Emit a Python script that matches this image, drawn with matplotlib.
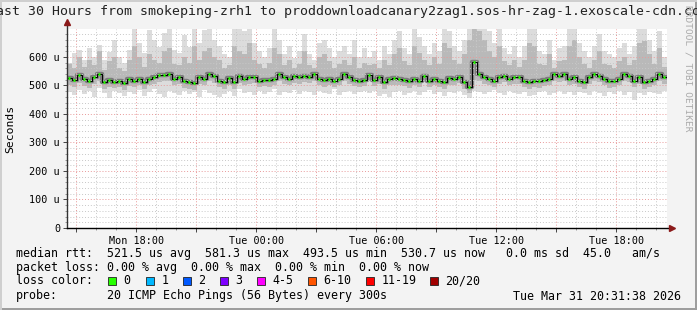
import matplotlib
matplotlib.use("Agg")
import matplotlib.pyplot as plt
import matplotlib.dates as mdates
from matplotlib.ticker import MultipleLocator, FuncFormatter
from matplotlib.patches import Rectangle
from datetime import datetime, timedelta

# ---- data (15 minute steps, values in microseconds) ----
start_time = datetime(2026, 3, 30, 14, 31, 38)
step_minutes = 15

median_rtt = [525, 519, 535, 524, 517, 529, 540, 512, 518, 512, 517, 508, 521, 517, 523, 511, 523, 529, 535, 538,
              540, 523, 529, 514, 511, 507, 529, 523, 540, 534,
              517, 511, 526, 512, 534, 523, 529, 531, 517, 520, 520, 523, 540, 529, 523, 534, 529, 534, 531, 539,
              523, 520, 523, 517, 523, 540, 529, 520, 517, 520,
              537, 520, 529, 511, 523, 526, 523, 520, 514, 523, 517, 534, 517, 523, 517, 511, 526, 523, 531, 511,
              494, 581, 540, 529, 523, 517, 529, 534, 523, 529,
              529, 517, 511, 517, 514, 520, 523, 540, 534, 540, 523, 529, 517, 511, 529, 540, 534, 523, 514, 517,
              523, 540, 534, 517, 529, 511, 517, 523, 540, 531]

ping_min = [478, 465, 485, 470, 480, 460, 490, 472, 455, 482, 475, 462, 478, 470, 484, 462, 476, 488, 470, 458,
            480, 474, 466, 482, 470, 478, 460, 484, 472, 466,
            458, 470, 480, 464, 486, 472, 478, 468, 482, 470, 476, 488, 466, 478, 472, 484, 470, 480, 476, 468,
            482, 474, 470, 486, 468, 478, 482, 470, 476, 480,
            474, 480, 462, 470, 458, 476, 482, 468, 474, 480, 466, 478, 484, 470, 476, 462, 478, 472, 480, 468,
            456, 482, 476, 470, 478, 484, 472, 466, 480, 474,
            470, 478, 462, 468, 476, 480, 466, 474, 482, 470, 476, 468, 478, 472, 466, 480, 474, 462, 478, 470,
            482, 468, 476, 450, 472, 466, 478, 474, 470, 480]

ping_low = [500, 495, 510, 498, 492, 505, 515, 488, 494, 490, 495, 484, 498, 494, 500, 488, 500, 505, 512, 514,
            516, 500, 505, 492, 488, 484, 505, 500, 516, 510,
            494, 488, 502, 488, 510, 500, 505, 508, 494, 497, 496, 500, 516, 506, 500, 510, 505, 512, 508, 516,
            500, 496, 500, 494, 500, 516, 506, 497, 494, 497,
            514, 497, 505, 488, 500, 502, 500, 497, 490, 500, 494, 512, 494, 500, 494, 488, 502, 500, 508, 488,
            472, 520, 515, 505, 500, 494, 505, 512, 500, 505,
            505, 494, 488, 494, 490, 497, 500, 516, 512, 516, 500, 505, 494, 488, 505, 516, 512, 500, 490, 494,
            500, 516, 512, 494, 505, 488, 494, 500, 516, 505]

ping_high = [575, 560, 600, 565, 590, 570, 620, 555, 585, 600, 560, 550, 590, 640, 600, 565, 610, 590, 580, 620,
             630, 575, 570, 600, 580, 640, 590, 620, 630, 600,
             590, 560, 570, 640, 620, 610, 650, 590, 575, 560, 580, 630, 610, 570, 590, 560, 575, 620, 570, 560,
             600, 610, 585, 560, 575, 590, 570, 600, 560, 580,
             570, 575, 560, 590, 570, 610, 630, 585, 570, 640, 615, 590, 570, 600, 575, 650, 630, 590, 575, 610,
             660, 700, 690, 660, 620, 600, 640, 585, 570, 590,
             565, 590, 650, 640, 575, 570, 610, 560, 585, 590, 640, 660, 600, 575, 560, 590, 620, 575, 570, 560,
             585, 600, 570, 590, 650, 655, 610, 575, 630, 565]

ping_max = [578, 613, 624, 590, 630, 601, 642, 590, 619, 660, 601, 578, 624, 712, 648, 613, 695, 660, 636, 683,
            700, 624, 613, 677, 636, 706, 648, 695, 706, 660,
            640, 610, 600, 710, 705, 690, 715, 650, 620, 600, 630, 700, 660, 610, 640, 595, 620, 680, 610, 590,
            650, 660, 630, 600, 620, 640, 610, 660, 600, 630,
            600, 620, 590, 640, 610, 660, 690, 630, 610, 700, 670, 640, 610, 650, 620, 710, 690, 640, 620, 660,
            715, 715, 715, 715, 690, 650, 700, 630, 610, 640,
            600, 640, 715, 700, 620, 610, 660, 590, 630, 640, 710, 715, 650, 620, 600, 640, 680, 620, 610, 600,
            630, 650, 610, 640, 715, 715, 660, 620, 690, 600]

y_ticks = [0, 100, 200, 300, 400, 500, 600]

legend_lines = [
    "median rtt:  521.5 us avg  581.3 us max  493.5 us min  530.7 us now   0.0 ms sd  45.0   am/s",
    "packet loss: 0.00 % avg  0.00 % max  0.00 % min  0.00 % now",
]
loss_labels = ["0", "1", "2", "3", "4-5", "6-10", "11-19", "20/20"]
loss_colors = ["#26ff00", "#00b8ff", "#0059ff", "#7e00ff", "#ff00ff", "#ff5500", "#ff0000", "#a10000"]
probe_text = "20 ICMP Echo Pings (56 Bytes) every 300s"
stamp_text = "Tue Mar 31 20:31:38 2026"
title = "Last 30 Hours from smokeping-zrh1 to proddownloadcanary2zag1.sos-hr-zag-1.exoscale-cdn.com"

# ---- figure ----
W, H = 697, 310
plt.rcParams["font.family"] = "DejaVu Sans Mono"

fig = plt.figure(figsize=(W / 100, H / 100), dpi=100, facecolor="#f3f3f3")


def px(x, y):
    return x / W, 1 - y / H


ax = fig.add_axes([67 / W, (H - 228) / H, 600 / W, 199 / H])
ax.set_facecolor("white")

n = len(median_rtt)
edges = [start_time + timedelta(minutes=step_minutes * i) for i in range(n + 1)]
t = mdates.date2num(edges)
step = t[1] - t[0]


def ext(v):
    return list(v) + [v[-1]]


# smoke
ax.fill_between(t, ext(ping_min), ext(ping_max), step="post", color="#dcdcdc", lw=0, zorder=1)
ax.fill_between(t, ext(ping_low), ext(ping_high), step="post", color="#b9b9b9", lw=0, zorder=1.2)
ax.step(t, ext(median_rtt), where="post", color="#7c7c7c", lw=3.2, zorder=1.4)
# median
ax.step(t, ext(median_rtt), where="post", color="black", lw=0.7, zorder=3)
ax.hlines(median_rtt, t[:-1] + 0.25 * step, t[:-1] + 0.7 * step, colors="#26ff00", lw=2, zorder=3.5)

ax.set_xlim(t[0], t[-1])
ax.set_ylim(0, 698)

# grid
ax.yaxis.set_major_locator(MultipleLocator(100))
ax.yaxis.set_minor_locator(MultipleLocator(20))
ax.xaxis.set_major_locator(mdates.HourLocator(byhour=range(0, 24, 3)))
ax.xaxis.set_minor_locator(mdates.HourLocator())
ax.set_axisbelow(False)
ax.grid(which="minor", color="#c8c8c8", lw=0.7, ls=(0, (1, 2)))
ax.grid(which="major", color="#e89a9a", lw=0.7, ls=(0, (1, 2)))


def xfmt(v, pos):
    d = mdates.num2date(v)
    return d.strftime("%a %H:%M") if d.hour % 6 == 0 else ""


ax.xaxis.set_major_formatter(FuncFormatter(xfmt))
ax.yaxis.set_major_formatter(FuncFormatter(lambda v, p: "0" if v == 0 else "%d u" % v))
ax.set_yticks(y_ticks)
ax.tick_params(axis="both", which="major", labelsize=7.3, length=3, width=0.7, color="#444444", pad=2)
ax.tick_params(axis="both", which="minor", length=1.5, width=0.6, color="#888888")
ax.tick_params(axis="x", pad=3)

for s in ax.spines.values():
    s.set_visible(False)

# axes with arrows
ax.plot([0, 0], [0, 1.035], transform=ax.transAxes, color="#333333", lw=1, clip_on=False, zorder=5)
ax.plot([0, 1.008], [0, 0], transform=ax.transAxes, color="black", lw=1, clip_on=False, zorder=5)
ax.plot([0], [1.035], marker="^", ms=4.5, color="#8b1a1a", transform=ax.transAxes, clip_on=False, zorder=6)
ax.plot([1.008], [0], marker=">", ms=4.5, color="#8b1a1a", transform=ax.transAxes, clip_on=False, zorder=6)

ax.set_ylabel("Seconds", fontsize=8.2)
ax.yaxis.set_label_coords(-0.086, 0.5)

# title and side text
fig.text(*px(348.5, 12), title, ha="center", va="center", fontsize=9.5, color="#222222")
fig.text(*px(688, 5), "RRDTOOL / TOBI OETIKER", rotation=270, ha="center", va="top",
         fontsize=6.8, color="#aaaaaa")

# legend block
fs = 8.4
fig.text(*px(16, 254), legend_lines[0], ha="left", va="center", fontsize=fs)
fig.text(*px(16, 268), legend_lines[1], ha="left", va="center", fontsize=fs)
fig.text(*px(16, 281), "loss color:", ha="left", va="center", fontsize=fs)
box_x = [108, 146, 183, 220, 257, 308, 366, 430]
for bx, lab, col in zip(box_x, loss_labels, loss_colors):
    fig.add_artist(Rectangle(px(bx, 285), 8 / W, 8 / H, transform=fig.transFigure,
                             facecolor=col, edgecolor="#222222", lw=0.6))
    fig.text(*px(bx + 15.5, 281), lab, ha="left", va="center", fontsize=fs)
fig.text(*px(16, 296), "probe:", ha="left", va="center", fontsize=fs)
fig.text(*px(107, 296), probe_text, ha="left", va="center", fontsize=fs)
fig.text(*px(681, 296), stamp_text, ha="right", va="center", fontsize=fs)

# outer frame shading
fig.add_artist(Rectangle((0, 0), 1, 2 / H, transform=fig.transFigure, color="#9e9e9e", lw=0))
fig.add_artist(Rectangle((1 - 2 / W, 0), 2 / W, 1, transform=fig.transFigure, color="#9e9e9e", lw=0))
fig.add_artist(Rectangle((0, 1 - 2 / H), 1, 2 / H, transform=fig.transFigure, color="#cfcfcf", lw=0))
fig.add_artist(Rectangle((0, 0), 2 / W, 1, transform=fig.transFigure, color="#cfcfcf", lw=0))

fig.savefig("out.png", dpi=100, facecolor=fig.get_facecolor())
